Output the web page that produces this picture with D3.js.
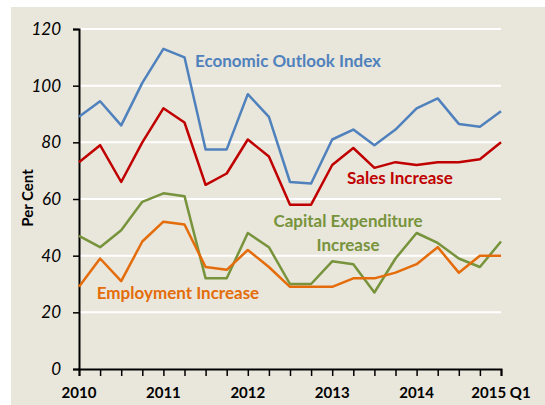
<!DOCTYPE html>
<html>
<head>
<meta charset="utf-8">
<script src="https://cdn.jsdelivr.net/npm/d3@7"></script>
<style>
  body { margin: 0; background: #fff; }
  svg text { font-family: Lato, "Open Sans", sans-serif; }
</style>
</head>
<body>
<div id="graph"></div>
<script>
// quarters 2010 Q1 .. 2015 Q1
var quarters = d3.range(21);
var yearTicks = [0, 4, 8, 12, 16, 20];
var yearLabels = ["2010", "2011", "2012", "2013", "2014", "2015 Q1"];
var yTicks = [0, 20, 40, 60, 80, 100, 120];

var outlook = [89, 94.5, 86, 101, 113, 110, 77.5, 77.5, 97, 89, 66, 65.5,
               81, 84.5, 79, 84.5, 92, 95.5, 86.5, 85.5, 91];
var sales = [73, 79, 66, 80, 92, 87, 65, 69, 81, 75, 58, 58,
             72, 78, 71, 73, 72, 73, 73, 74, 80];
var capex = [47, 43, 49, 59, 62, 61, 32, 32, 48, 43, 30, 30,
             38, 37, 27, 39, 48, 44.5, 39, 36, 45];
var employment = [29, 39, 31, 45, 52, 51, 36, 35, 42, 36, 29, 29,
                  29, 32, 32, 34, 37, 43, 34, 40, 40];

var w = 545, h = 405;
var vis = d3.select("#graph").append("svg").attr("width", w).attr("height", h);

// beige panel
vis.append("rect").attr("x", 11).attr("y", 7).attr("width", w - 11).attr("height", h - 7)
   .attr("fill", "#e9e6db");

var x = d3.scaleLinear().domain([0, 20]).range([79, 501]);
var y = d3.scaleLinear().domain([0, 120]).range([369, 29]);

// gridlines
vis.selectAll("line.grid")
   .data(yTicks.slice(1))
   .enter().append("line")
   .attr("class", "grid")
   .attr("x1", x(0)).attr("x2", x(20))
   .attr("y1", d => y(d)).attr("y2", d => y(d))
   .attr("stroke", "#fff").attr("stroke-width", 2);

// y axis
var yAxis = vis.append("g").attr("transform", "translate(" + x(0) + ",0)")
   .call(d3.axisLeft(y).tickValues(yTicks).tickSize(6).tickPadding(12));
yAxis.select(".domain").attr("stroke", "#000").attr("stroke-width", 2);
yAxis.selectAll(".tick line").attr("stroke", "#000").attr("stroke-width", 1.5);
yAxis.selectAll("text").attr("font-size", 17).attr("font-style", "italic")
     .attr("fill", "#000").style("font-family", "Lato, sans-serif");

// x axis
var xAxis = vis.append("g").attr("transform", "translate(0," + y(0) + ")")
   .call(d3.axisBottom(x).tickValues(quarters).tickSize(7).tickFormat(""));
xAxis.select(".domain").attr("stroke", "#000").attr("stroke-width", 2);
xAxis.selectAll(".tick line").attr("stroke", "#000").attr("stroke-width", 1.5);

vis.selectAll("text.year")
   .data(yearTicks)
   .enter().append("text")
   .attr("class", "year")
   .attr("x", d => x(d)).attr("y", 398)
   .attr("text-anchor", "middle")
   .attr("font-size", 15).attr("font-weight", "bold")
   .text((d, i) => yearLabels[i]);

vis.append("text")
   .attr("transform", "translate(33,198) rotate(-90)")
   .attr("text-anchor", "middle")
   .attr("font-size", 15).attr("font-weight", "bold")
   .text("Per Cent");

// lines
var series = [
  { name: "outlook", values: outlook, color: "#4f81bd" },
  { name: "sales", values: sales, color: "#c00000" },
  { name: "capex", values: capex, color: "#77933c" },
  { name: "employment", values: employment, color: "#e46c0a" }
];

var line = d3.line().x((d, i) => x(i)).y(d => y(d));

vis.selectAll("path.series")
   .data(series)
   .enter().append("path")
   .attr("class", "series")
   .attr("d", d => line(d.values))
   .attr("fill", "none")
   .attr("stroke", d => d.color)
   .attr("stroke-width", 2.5)
   .attr("stroke-linejoin", "round");

// series labels
var labels = [
  { text: "Economic Outlook Index", x: 288, y: 67, color: "#4f81bd" },
  { text: "Sales Increase", x: 400, y: 184, color: "#c00000" },
  { text: "Capital Expenditure", x: 348, y: 227, color: "#77933c" },
  { text: "Increase", x: 348, y: 251, color: "#77933c" },
  { text: "Employment Increase", x: 178, y: 299, color: "#e46c0a" }
];

vis.selectAll("text.lbl")
   .data(labels)
   .enter().append("text")
   .attr("class", "lbl")
   .attr("x", d => d.x).attr("y", d => d.y)
   .attr("text-anchor", "middle")
   .attr("font-size", 17).attr("font-weight", "bold")
   .attr("fill", d => d.color)
   .text(d => d.text);
</script>
</body>
</html>
